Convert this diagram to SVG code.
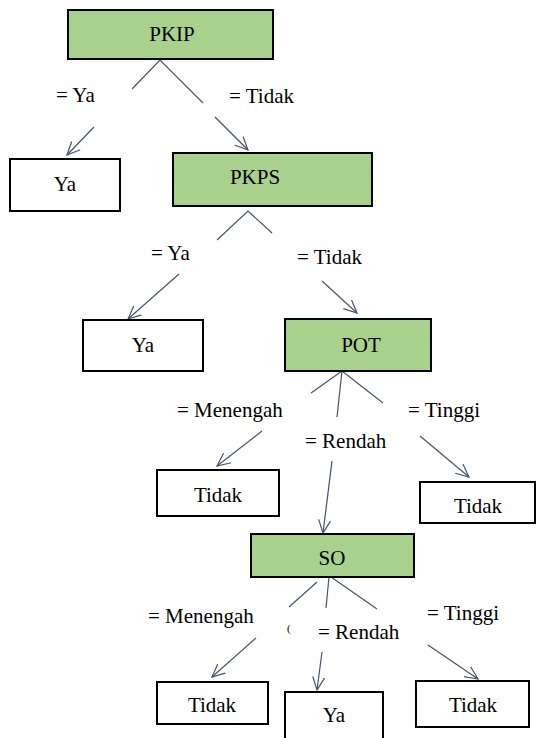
<svg xmlns="http://www.w3.org/2000/svg" width="536" height="738" viewBox="0 0 536 738">
<defs>
<marker id="ah" markerUnits="userSpaceOnUse" markerWidth="16" markerHeight="16" refX="13" refY="7" orient="auto" viewBox="0 0 16 14">
<path d="M0,1 L13,7 L0,13" fill="none" stroke="#44546a" stroke-width="1.2"/>
</marker>
</defs>
<style>
text{font-family:'Liberation Serif','Times New Roman',serif;font-size:21px;fill:#000}
.c{text-anchor:middle}
.g{fill:#a9d18e;stroke:#000;stroke-width:2}
.w{fill:#fff;stroke:#000;stroke-width:2}
.l{stroke:#44546a;stroke-width:1.2;fill:none}
.a{stroke:#44546a;stroke-width:1.2;fill:none;marker-end:url(#ah)}
</style>
<rect width="536" height="738" fill="#fff"/>
<g id="connectors">
<path class="l" d="M132,89 L160,60 L203,103"/>
<line class="a" x1="94" y1="127" x2="67" y2="155"/>
<line class="a" x1="215" y1="117" x2="248" y2="150"/>
<path class="l" d="M217,240 L248,211 L272,233"/>
<line class="a" x1="179" y1="274" x2="128" y2="319"/>
<line class="a" x1="322" y1="281" x2="357" y2="313"/>
<path class="l" d="M311,393 L342,371 L383,403 M342,371 L337,417"/>
<line class="a" x1="262" y1="431" x2="217" y2="466"/>
<line class="a" x1="332" y1="461" x2="323" y2="533"/>
<line class="a" x1="420" y1="436" x2="469" y2="477"/>
<path class="l" d="M317,582 L289,607 M329,577 L326,608 M331,577 L377,609"/>
<line class="a" x1="256" y1="638" x2="212" y2="677"/>
<line class="a" x1="322" y1="652" x2="317" y2="690"/>
<line class="a" x1="428" y1="645" x2="478" y2="679"/>
</g>
<g font-family="Liberation Serif, Times New Roman, serif" font-size="21">
<g id="labels">
<text x="56" y="102">= Ya</text>
<text x="229" y="103">= Tidak</text>
<text x="151" y="260">= Ya</text>
<text x="297" y="264">= Tidak</text>
<text x="177" y="417">= Menengah</text>
<text x="305" y="448">= Rendah</text>
<text x="408" y="417">= Tinggi</text>
<text x="148" y="623">= Menengah</text>
<text x="318" y="639">= Rendah</text>
<text x="427" y="620">= Tinggi</text>
<text x="287" y="632" font-size="11" style="font-size:11px">(</text>
</g>
<g id="pkip"><rect class="g" x="68" y="10" width="205" height="49"/><text class="c" x="172" y="41">PKIP</text></g>
<g id="ya1"><rect class="w" x="10" y="159" width="110" height="52"/><text class="c" x="65" y="191">Ya</text></g>
<g id="pkps"><rect class="g" x="173" y="153" width="199" height="53"/><text class="c" x="255" y="184">PKPS</text></g>
<g id="ya2"><rect class="w" x="83" y="320" width="120" height="51"/><text class="c" x="143" y="352">Ya</text></g>
<g id="pot"><rect class="g" x="285" y="319" width="146" height="52"/><text class="c" x="361" y="352">POT</text></g>
<g id="tidak1"><rect class="w" x="157" y="470" width="122" height="46"/><text class="c" x="218" y="502">Tidak</text></g>
<g id="tidak2"><rect class="w" x="420" y="482" width="115" height="41"/><text class="c" x="478" y="513">Tidak</text></g>
<g id="so"><rect class="g" x="251" y="534" width="163" height="43"/><text class="c" x="332" y="565">SO</text></g>
<g id="tidak3"><rect class="w" x="157" y="682" width="111" height="42"/><text class="c" x="212" y="712">Tidak</text></g>
<g id="ya3"><rect class="w" x="285" y="692" width="98" height="50"/><text class="c" x="334" y="722">Ya</text></g>
<g id="tidak4"><rect class="w" x="416" y="681" width="113" height="46"/><text class="c" x="473" y="712">Tidak</text></g>
</g>
</svg>
